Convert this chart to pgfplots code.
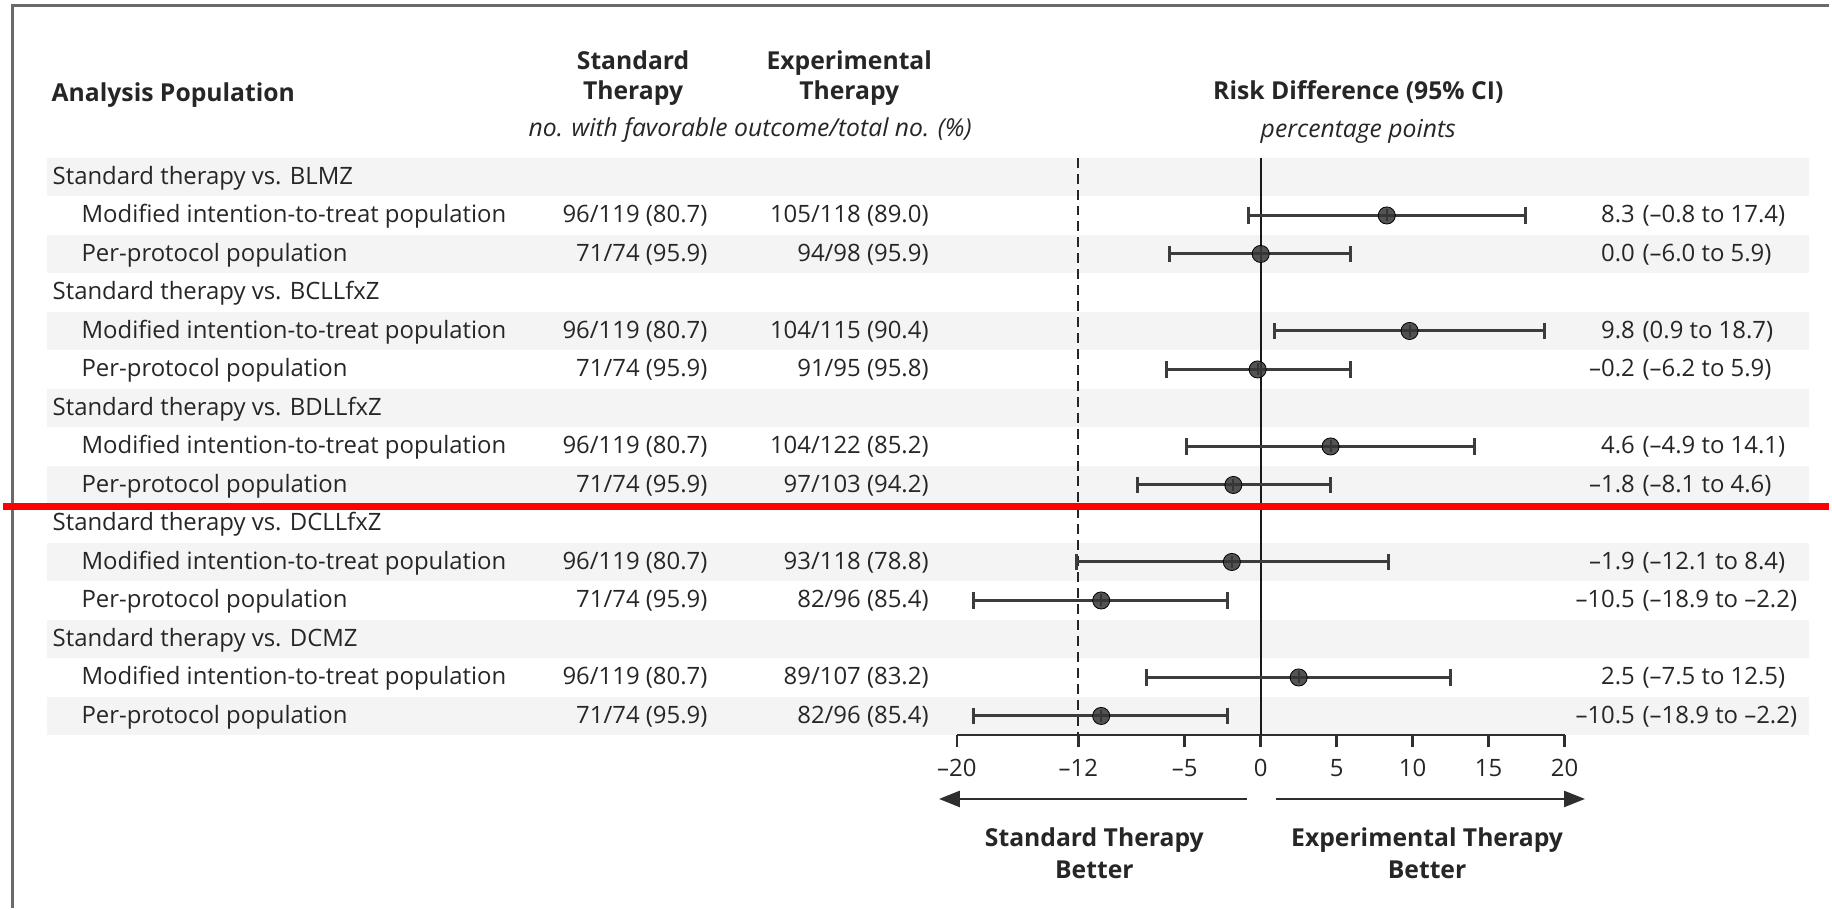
\documentclass[border=0pt]{standalone}
\usepackage{fontspec}
\setmainfont{Open Sans}
\usepackage{pgfplots}
\pgfplotsset{compat=1.18}
\usepackage{pgfplotstable}
\usetikzlibrary{arrows.meta}
\definecolor{band}{HTML}{F4F4F4}
\definecolor{txt}{HTML}{262626}
\definecolor{ebar}{HTML}{3C3C3C}
\definecolor{dot}{HTML}{363636}
\definecolor{framec}{HTML}{6A6A6A}
\definecolor{axc}{HTML}{2E2E2E}
\newcommand\bodyf{\fontsize{12}{14}\selectfont}
\newcommand\hdrf{\bfseries\fontsize{12.4}{15}\selectfont}
\newcommand\itf{\itshape\fontsize{12.4}{14}\selectfont}

\pgfplotstableread{
row est lo hi
-2 8.3 -0.8 17.4
-3 0.0 -6.0 5.9
-5 9.8 0.9 18.7
-6 -0.2 -6.2 5.9
-8 4.6 -4.9 14.1
-9 -1.8 -8.1 4.6
-11 -1.9 -12.1 8.4
-12 -10.5 -18.9 -2.2
-14 2.5 -7.5 12.5
-15 -10.5 -18.9 -2.2
}\cidata

\newcommand\grp[2]{\node[anchor=base west,inner sep=0,text=txt,font=\bodyf] at (49,{#1+7.5}) {#2};}
\newcommand\sub[6]{%
 \node[anchor=base west,inner sep=0,text=txt,font=\bodyf] at (78,{#1+7.5}) {#2};
 \node[anchor=base east,inner sep=0,text=txt,font=\bodyf] at (707,{#1+7.5}) {#3};
 \node[anchor=base east,inner sep=0,text=txt,font=\bodyf] at (929,{#1+7.5}) {#4};
 \node[anchor=base east,inner sep=0,text=txt,font=\bodyf] at (1638,{#1+7.5}) {#5};
 \node[anchor=base west,inner sep=0,text=txt,font=\bodyf] at (1645,{#1+7.5}) {#6};}

\begin{document}
\begin{tikzpicture}
\begin{scope}[x=0.5pt,y=-0.5pt]
\useasboundingbox (0,0) rectangle (1832,911);
\foreach \i in {0,2,...,14} \fill[band] (44,{158.3+38.65*\i}) rectangle (1812,{158.3+38.65*(\i+1)});
% headers
\node[anchor=base west,inner sep=0,text=txt,font=\hdrf] at (48,101.5) {Analysis Population};
\node[anchor=base,inner sep=0,text=txt,font=\hdrf] at (632,70) {Standard};
\node[anchor=base,inner sep=0,text=txt,font=\hdrf] at (632,100) {Therapy};
\node[anchor=base,inner sep=0,text=txt,font=\hdrf] at (849,70) {Experimental};
\node[anchor=base,inner sep=0,text=txt,font=\hdrf] at (849,100) {Therapy};
\node[anchor=base,inner sep=0,text=txt,font=\itf] at (749.5,137) {no. with favorable outcome/total no. (\%)};
\node[anchor=base,inner sep=0,text=txt,font=\hdrf] at (1360,100) {Risk Difference (95\% CI)};
\node[anchor=base,inner sep=0,text=txt,font=\itf] at (1360,138) {percentage points};
% rows
\grp{177.63}{Standard therapy vs. BLMZ}
\sub{216.28}{Modified intention-to-treat population}{96/119 (80.7)}{105/118 (89.0)}{8.3}{(–0.8 to 17.4)}
\sub{254.93}{Per-protocol population}{71/74 (95.9)}{94/98 (95.9)}{0.0}{(–6.0 to 5.9)}
\grp{293.58}{Standard therapy vs. BCLLfxZ}
\sub{332.23}{Modified intention-to-treat population}{96/119 (80.7)}{104/115 (90.4)}{9.8}{(0.9 to 18.7)}
\sub{370.88}{Per-protocol population}{71/74 (95.9)}{91/95 (95.8)}{–0.2}{(–6.2 to 5.9)}
\grp{409.53}{Standard therapy vs. BDLLfxZ}
\sub{448.18}{Modified intention-to-treat population}{96/119 (80.7)}{104/122 (85.2)}{4.6}{(–4.9 to 14.1)}
\sub{486.83}{Per-protocol population}{71/74 (95.9)}{97/103 (94.2)}{–1.8}{(–8.1 to 4.6)}
\grp{525.48}{Standard therapy vs. DCLLfxZ}
\sub{564.13}{Modified intention-to-treat population}{96/119 (80.7)}{93/118 (78.8)}{–1.9}{(–12.1 to 8.4)}
\sub{602.78}{Per-protocol population}{71/74 (95.9)}{82/96 (85.4)}{–10.5}{(–18.9 to –2.2)}
\grp{641.43}{Standard therapy vs. DCMZ}
\sub{680.08}{Modified intention-to-treat population}{96/119 (80.7)}{89/107 (83.2)}{2.5}{(–7.5 to 12.5)}
\sub{718.73}{Per-protocol population}{71/74 (95.9)}{82/96 (85.4)}{–10.5}{(–18.9 to –2.2)}
% bottom arrows and labels
\draw[axc,line width=1.25pt,-{Triangle[length=10.5pt,width=8pt]}] (1248,802) -- (939,802);
\draw[axc,line width=1.25pt,-{Triangle[length=10.5pt,width=8pt]}] (1277,802) -- (1587.5,802);
\node[anchor=base,inner sep=0,text=txt,font=\hdrf] at (1095,850) {Standard Therapy};
\node[anchor=base,inner sep=0,text=txt,font=\hdrf] at (1095,882) {Better};
\node[anchor=base,inner sep=0,text=txt,font=\hdrf] at (1429,850) {Experimental Therapy};
\node[anchor=base,inner sep=0,text=txt,font=\hdrf] at (1429,882) {Better};
\end{scope}

\begin{axis}[
  at={(478.5pt,-79.15pt)}, anchor=north west,
  scale only axis, width=305pt, height=289.85pt,
  xmin=-20, xmax=20, ymin=-15.5, ymax=-0.5,
  axis x line*=bottom, axis y line=none,
  axis line style={line width=1.25pt, draw=axc},
  xtick={-20,-12,-5,0,5,10,15,20},
  xticklabels={{–20},{–12},{–5},{0},{5},{10},{15},{20}},
  tick align=outside, major tick length=6pt,
  tick style={line width=1.25pt, draw=axc},
  xticklabel style={font=\bodyf, text=txt, yshift=-2.5pt},
  ytick=\empty,
  clip=false,
]
\addplot[black!90, line width=1pt, mark=none] coordinates {(0,-0.5) (0,-15.5)};
\addplot[black!85, line width=1.1pt, dash pattern=on 5pt off 3pt, mark=none] coordinates {(-12,-0.5) (-12,-15.5)};
\addplot[draw=none, mark=none,
  error bars/.cd, x dir=both, x explicit,
  error bar style={line width=1.5pt, draw=ebar},
  error mark options={rotate=90, mark size=4.2pt, line width=1.5pt, draw=ebar}]
  table[x=est, y=row, x error plus expr={\thisrow{hi}-\thisrow{est}}, x error minus expr={\thisrow{est}-\thisrow{lo}}] {\cidata};
\addplot[only marks, mark=|, mark size=3pt, mark options={draw=ebar, line width=1pt}] table[x=est, y=row] {\cidata};
\addplot[only marks, mark=*, mark size=4.3pt, mark options={fill=dot, draw=none, fill opacity=0.85}] table[x=est, y=row] {\cidata};
\end{axis}

\begin{scope}[x=0.5pt,y=-0.5pt]
\draw[framec, line width=1.5pt] (9.5,911) -- (9.5,5.5) -- (1832,5.5);
\draw[red, line width=3.5pt] (0,508) -- (1832,508);
\end{scope}
\end{tikzpicture}
\end{document}
